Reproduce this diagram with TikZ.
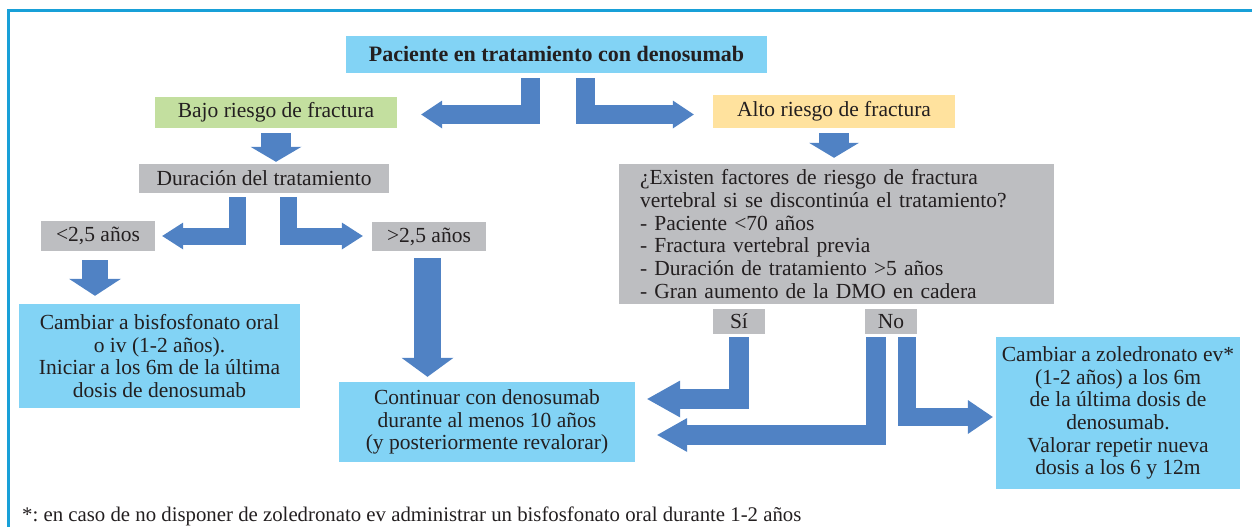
\documentclass[tikz,border=0pt]{standalone}
\usepackage{fontspec}
\setmainfont{Liberation Serif}
\usepackage{xcolor}
\usetikzlibrary{arrows.meta,calc}
\definecolor{cielo}{HTML}{82D3F5}
\definecolor{pasto}{HTML}{C3DF9F}
\definecolor{crema}{HTML}{FFE29E}
\definecolor{ceniza}{HTML}{BDBEC1}
\definecolor{azulflecha}{HTML}{5082C4}
\definecolor{cian}{HTML}{18A0D8}
\definecolor{tinta}{HTML}{231F20}
\tikzstyle{caja} = [rectangle, inner sep=0pt, align=center, text=tinta, font=\fontsize{21.5}{22.7}\selectfont]
\tikzstyle{azul} = [caja, fill=cielo]
\tikzstyle{verde} = [caja, fill=pasto]
\tikzstyle{amarillo} = [caja, fill=crema]
\tikzstyle{gris} = [caja, fill=ceniza]
\tikzstyle{flecha} = [draw=azulflecha, line width=19pt]
\tikzstyle{marco} = [draw=cian, line width=3pt]
\frenchspacing

\begin{document}
\begin{tikzpicture}[x=1pt,y=-1pt]
  \useasboundingbox (0,0) rectangle (1252,527);
  \draw[marco] (8.5,527) -- (8.5,11) -- (1252,11);

  \node[azul, minimum width=421pt, minimum height=37pt, font=\bfseries\fontsize{22}{24}\selectfont] (paciente) at (556.5,54.5) {Paciente en tratamiento con denosumab};
  \node[verde, minimum width=242pt, minimum height=31pt] (bajo) at (276,112.5) {Bajo riesgo de fractura};
  \node[amarillo, minimum width=242pt, minimum height=33pt] (alto) at (834,111.5) {Alto riesgo de fractura};
  \node[gris, minimum width=250pt, minimum height=29pt] (duracion) at (264,178.5) {Duración del tratamiento};
  \node[gris, minimum width=435pt, minimum height=140pt, text width=393pt, align=left] (factores) at (836.5,234) {¿Existen factores de riesgo de fractura\\ vertebral si se discontinúa el tratamiento?\\ - Paciente <70 años\\ - Fractura vertebral previa\\ - Duración de tratamiento >5 años\\ - Gran aumento de la DMO en cadera};
  \node[gris, minimum width=52pt, minimum height=25pt] (si) at (739,321.5) {Sí};
  \node[gris, minimum width=52pt, minimum height=25pt] (no) at (891,321.5) {No};
  \node[gris, minimum width=114pt, minimum height=30pt] (menos) at (98,236) {<2,5 años};
  \node[gris, minimum width=114pt, minimum height=29pt] (mas) at (429,236.5) {>2,5 años};
  \node[azul, minimum width=281pt, minimum height=104pt] (bisfos) at (159.5,356) {Cambiar a bisfosfonato oral\\ o iv (1-2 años).\\ Iniciar a los 6m de la última\\ dosis de denosumab};
  \node[azul, minimum width=296pt, minimum height=80pt] (continuar) at (487,422) {Continuar con denosumab\\ durante al menos 10 años\\ (y posteriormente revalorar)};
  \node[azul, minimum width=244pt, minimum height=152pt] (zoledro) at (1118,413) {Cambiar a zoledronato ev*\\ (1-2 años) a los 6m\\ de la última dosis de\\ denosumab.\\ Valorar repetir nueva\\ dosis a los 6 y 12m};
  \node[caja, anchor=base west, font=\fontsize{20.8}{22.7}\selectfont] (nota) at (22,521) {*: en caso de no disponer de zoledronato ev administrar un bisfosfonato oral durante 1-2 años};

  % ramas superiores
  \draw[flecha, -{Triangle[length=21pt,width=28pt,line width=0pt]}] ([xshift=-26pt,yshift=-5pt]paciente.south) |- ($(bajo.east)+(24,2)$);
  \draw[flecha, -{Triangle[length=21pt,width=28pt,line width=0pt]}] ([xshift=28.5pt,yshift=-5pt]paciente.south) |- ($(alto.west)+(-19,3)$);
  \draw[flecha, line width=30pt, -{Triangle[length=15pt,width=51pt,line width=0pt]}] ([yshift=-5pt]bajo.south) -- ($(bajo.south |- duracion.north)+(0,-2)$);
  \draw[flecha, line width=30pt, -{Triangle[length=15pt,width=50pt,line width=0pt]}] ([yshift=-5pt]alto.south) -- ($(alto.south |- factores.north)+(0,-6)$);

  % duracion del tratamiento
  \draw[flecha, line width=17pt, -{Triangle[length=21pt,width=27pt,line width=0pt]}] ([xshift=-26.5pt,yshift=-4pt]duracion.south) |- ($(menos.east)+(7,0)$);
  \draw[flecha, line width=17pt, -{Triangle[length=21pt,width=27pt,line width=0pt]}] ([xshift=24.5pt,yshift=-4pt]duracion.south) |- ($(mas.west)+(-9,-0.5)$);
  \draw[flecha, line width=26pt, -{Triangle[length=17pt,width=52pt,line width=0pt]}] ([xshift=-3pt,yshift=-9pt]menos.south) -- ($(menos.south |- bisfos.north)+(-3,-8)$);
  \draw[flecha, line width=27pt, -{Triangle[length=19pt,width=52pt,line width=0pt]}] ([xshift=-1.5pt,yshift=-7pt]mas.south) -- ($(mas.south |- continuar.north)+(-1.5,-5)$);

  % si / no
  \draw[flecha, line width=20pt, -{Triangle[length=33pt,width=37pt,line width=0pt]}] ([xshift=-0.5pt,yshift=-3pt]si.south) |- ($(continuar.east)+(12,-23)$);
  \draw[flecha, line width=20pt, -{Triangle[length=30pt,width=34pt,line width=0pt]}] ([xshift=-15.5pt,yshift=-3pt]no.south) |- ($(continuar.east)+(22,13)$);
  \draw[flecha, line width=18pt, -{Triangle[length=25pt,width=34pt,line width=0pt]}] ([xshift=16pt,yshift=-3pt]no.south) |- ($(zoledro.west)+(-3,4)$);
\end{tikzpicture}
\end{document}
